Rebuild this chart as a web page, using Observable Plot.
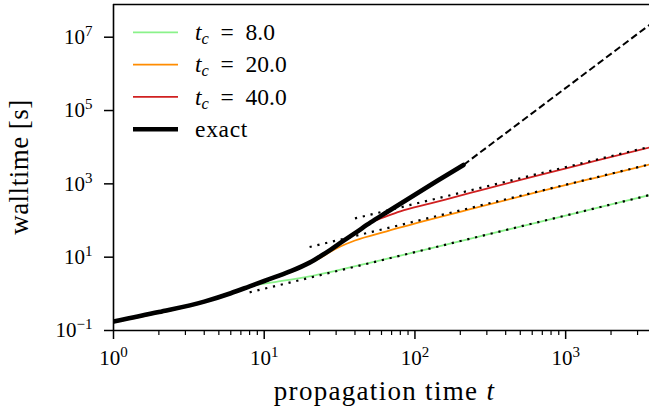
<!DOCTYPE html>
<html><head><meta charset="utf-8">
<script src="https://cdn.jsdelivr.net/npm/d3@7"></script>
<script src="https://cdn.jsdelivr.net/npm/@observablehq/plot@0.6"></script>
<style>
body{margin:0;padding:0;font-family:"Liberation Serif",serif;}
#wrap{position:relative;width:649px;height:408px;}
#xlabel{position:absolute;left:0;top:378px;width:649px;box-sizing:border-box;padding-left:120px;text-align:center;font-family:"Liberation Serif",serif;font-size:27px;line-height:27px;letter-spacing:1.3px;color:#000;white-space:nowrap;}
</style></head><body>
<div id="wrap"><div id="chart"></div><div id="xlabel">propagation time <i>t</i></div></div>
<script>
// exact walltime
const tExact = [1, 2, 4, 6, 8, 10, 12, 15, 20, 24, 27.5, 32, 40, 50.8, 65, 90, 140, 210];
const wallExact = [0.176, 0.318, 0.614, 1.04, 1.60, 2.24, 2.94, 4.15, 7.1, 11.1, 15.9, 24.5, 45.3, 88.7, 168, 388, 1194, 3281];
// extrapolation of exact (dashed)
const tDashed = [210, 4000];
const wallDashed = [3281, 3.0e7];
// t_c = 8.0
const tGreen = [1, 2, 4, 6, 8, 10, 12, 15, 20, 30, 50, 100, 300, 1000, 4000];
const wallGreen = [0.176, 0.318, 0.614, 1.04, 1.60, 1.90, 2.13, 2.44, 3.01, 4.30, 6.98, 13.7, 41.1, 137, 548];
// t_c = 20.0
const tOrange = [1, 2, 4, 6, 8, 10, 12, 15, 20, 24, 27.5, 32, 40, 65, 127, 233, 600, 1500, 4000];
const wallOrange = [0.167, 0.302, 0.583, 0.99, 1.52, 2.13, 2.79, 3.9, 6.75, 10.0, 14.0, 19.5, 28.5, 50.9, 107, 204, 549, 1399, 3765];
// t_c = 40.0
const tRed = [1, 2, 4, 6, 8, 10, 12, 15, 20, 24, 27.5, 32, 40, 45, 50.8, 56, 65, 80, 127, 233, 600, 1500, 4000];
const wallRed = [0.176, 0.318, 0.614, 1.04, 1.60, 2.24, 2.94, 4.15, 7.1, 11.1, 15.9, 24.5, 45.3, 62, 86, 104, 131, 177, 292, 564, 1556, 4013, 10910];
// linear asymptotes (dotted)
const tAsymGreen = [8, 4000];   const wallAsymGreen = [1.10, 548];
const tAsymOrange = [20, 4000]; const wallAsymOrange = [18.9, 3780];
const tAsymRed = [40, 4000];    const wallAsymRed = [114, 11400];
// axes
const xDomain = [1, 3600];
const yDomain = [0.1, 7.8e7];
const xMajor = [1, 10, 100, 1000];
const xMinor = [2,3,4,5,6,7,8,9,20,30,40,50,60,70,80,90,200,300,400,500,600,700,800,900,2000,3000];
const yMajor = [0.1, 10, 1e3, 1e5, 1e7];
// legend
const legendLabels = ["8.0", "20.0", "40.0", "exact"];
const colors = ["#8af28a", "#ff8c00", "#d02020", "black"];

const FONT = "Liberation Serif, serif";
const rows = (t, w) => t.map((v, i) => ({t: v, w: w[i]}));
const fmt = d => "10^" + String(Math.round(Math.log10(d))).replace("-", "\u2212");
const solid = (t, w, color, sw) => Plot.line(rows(t, w), {x: "t", y: "w", stroke: color, strokeWidth: sw, curve: "monotone-x", clip: true});
const dotted = (t, w) => Plot.line(rows(t, w), {x: "t", y: "w", stroke: "black", strokeWidth: 2.2, strokeDasharray: "2.2,5.8", strokeLinecap: "butt", clip: true});

const chart = Plot.plot({
  width: 649, height: 378,
  marginLeft: 113, marginRight: 0, marginTop: 4, marginBottom: 48,
  x: {type: "log", domain: xDomain},
  y: {type: "log", domain: yDomain},
  style: {fontFamily: FONT, fontSize: "21px"},
  marks: [
    solid(tGreen, wallGreen, colors[0], 1.8),
    solid(tOrange, wallOrange, colors[1], 1.8),
    solid(tRed, wallRed, colors[2], 1.8),
    solid(tExact, wallExact, "black", 4.6),
    Plot.line(rows(tDashed, wallDashed), {x: "t", y: "w", stroke: "black", strokeWidth: 2, strokeDasharray: "7,3.5", strokeLinecap: "butt", clip: true}),
    dotted(tAsymGreen, wallAsymGreen),
    dotted(tAsymOrange, wallAsymOrange),
    dotted(tAsymRed, wallAsymRed),
    Plot.axisX({ticks: xMajor, tickSize: 9, tickPadding: 10.7, tickFormat: fmt, strokeWidth: 1.5, label: null}),
    Plot.axisX({ticks: xMinor, tickSize: 5, tickFormat: () => "", strokeWidth: 1.2, label: null}),
    Plot.axisY({ticks: yMajor, tickSize: 9, tickPadding: 12, tickFormat: fmt, strokeWidth: 1.5, label: null}),
    Plot.ruleX([xDomain[0]], {stroke: "black", strokeWidth: 1.6}),
    Plot.ruleY(yDomain, {stroke: "black", strokeWidth: 1.6})
  ]
});
document.getElementById("chart").append(chart);

const svg = d3.select(chart);
// superscript tick labels
svg.selectAll('g[aria-label="x-axis tick label"] text, g[aria-label="y-axis tick label"] text').each(function() {
  const m = this.textContent.match(/^10\^(.+)$/);
  if (!m) return;
  const el = d3.select(this);
  el.text(null);
  el.append("tspan").text("10");
  el.append("tspan").attr("font-size", 15).attr("dy", -8).text(m[1]);
});

// y axis label
svg.append("text")
  .attr("transform", "translate(28,167) rotate(-90)")
  .attr("text-anchor", "middle").attr("font-family", FONT)
  .attr("font-size", 27).attr("letter-spacing", 0.5)
  .attr("fill", "black")
  .text("walltime [s]");

// legend
const lg = svg.append("g").attr("font-size", 23.5).attr("fill", "black").attr("font-family", FONT).attr("text-anchor", "start");
legendLabels.forEach((lab, i) => {
  const y = 32.3 + 32.3 * i;
  lg.append("line").attr("x1", 133).attr("x2", 178).attr("y1", y).attr("y2", y)
    .attr("stroke", colors[i]).attr("stroke-width", i === 3 ? 4.6 : 1.8);
  const tx = lg.append("text").attr("x", 195).attr("y", y + 7.7);
  if (lab === "exact") {
    tx.attr("letter-spacing", 0.7).text("exact");
  } else {
    tx.append("tspan").attr("font-style", "italic").text("t");
    tx.append("tspan").attr("font-style", "italic").attr("font-size", 16.5).attr("dy", 4).text("c");
    tx.append("tspan").attr("dy", -4).text("\u2002=\u2002" + lab);
  }
});
</script>
</body></html>
